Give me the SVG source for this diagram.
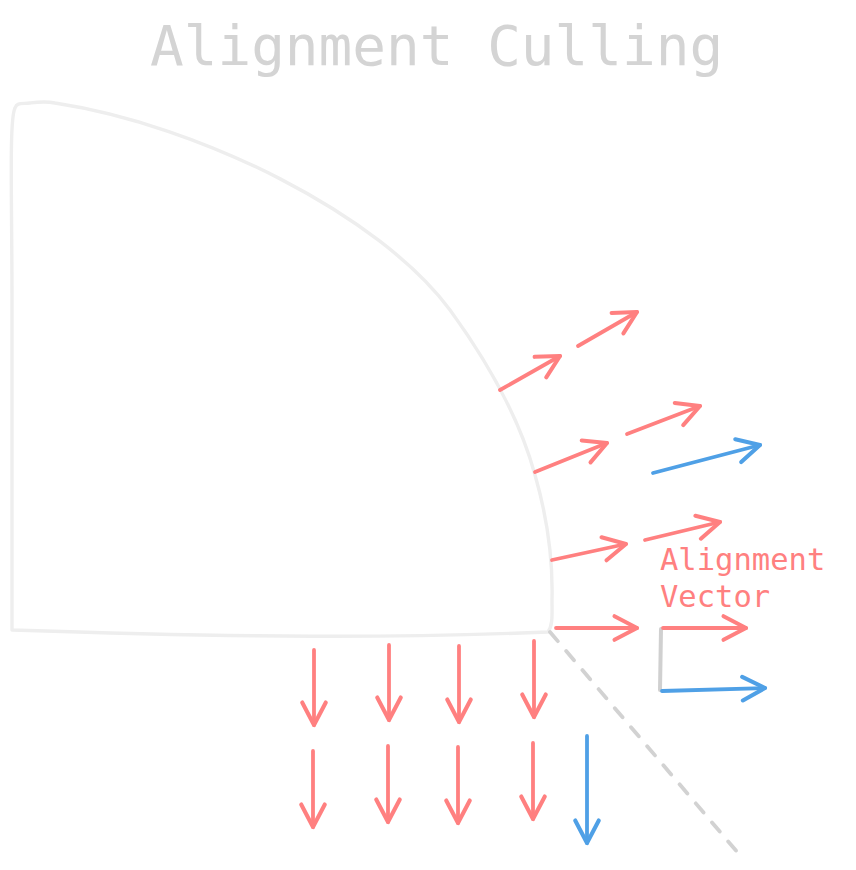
<svg xmlns="http://www.w3.org/2000/svg" width="856" height="870" viewBox="0 0 856 870">
<defs>
<style>
.r{stroke:#ff8080;stroke-width:3.8;fill:none;stroke-linecap:round;stroke-linejoin:round}
.b{stroke:#4fa0e6;stroke-width:3.8;fill:none;stroke-linecap:round;stroke-linejoin:round}
.g{stroke:#eeeeee;stroke-width:3.4;fill:none;stroke-linecap:round;stroke-linejoin:round}
.d{stroke:#d2d2d2;stroke-width:3.8;fill:none;stroke-dasharray:12 13;stroke-linecap:round}
.gl{stroke:#d0d0d0;stroke-width:4;fill:none;stroke-linecap:round}
.t{font-family:"DejaVu Sans Mono","Liberation Mono",monospace}
</style>
<marker id="ar" markerUnits="userSpaceOnUse" markerWidth="30" markerHeight="30" viewBox="-24 -14 28 28" refX="0" refY="0" orient="auto" overflow="visible">
<path d="M-21,-11 L0,0 L-21,11" stroke="#ff8080" stroke-width="3.8" fill="none" stroke-linecap="round" stroke-linejoin="round"/>
</marker>
<marker id="ab" markerUnits="userSpaceOnUse" markerWidth="30" markerHeight="30" viewBox="-24 -14 28 28" refX="0" refY="0" orient="auto" overflow="visible">
<path d="M-21,-11 L0,0 L-21,11" stroke="#4fa0e6" stroke-width="3.8" fill="none" stroke-linecap="round" stroke-linejoin="round"/>
</marker>
</defs>
<rect width="856" height="870" fill="#ffffff"/>
<text class="t" x="150" y="65" font-size="56" fill="#d4d4d4">Alignment Culling</text>
<g id="shape">
<path class="g" d="M12,630 L12,300 C12,200 9,120 15,108 C17,102 22,104 30,103 C38,102 45,101 55,103 C200,125 380,215 450,310 C490,365 520,420 535,475 C548,520 553,560 552,600 C552,615 553,625 548,632 C400,638 250,638 12,630 Z"/>
</g>
<g id="boundary">
<path class="d" d="M550,632 L738,853"/>
</g>
<g id="label">
<text class="t" x="660" y="570" font-size="30.5" fill="#ff8080">Alignment</text>
<text class="t" x="660" y="607" font-size="30.5" fill="#ff8080">Vector</text>
</g>
<g id="connectors">
<path class="r" marker-end="url(#ar)" d="M500,390 L560,356"/>
<path class="r" marker-end="url(#ar)" d="M578,346 L637,312"/>
<path class="r" marker-end="url(#ar)" d="M535,472 L607,443"/>
<path class="r" marker-end="url(#ar)" d="M627,434 L700,406"/>
<path class="b" marker-end="url(#ab)" d="M653,473 L760,445"/>
<path class="r" marker-end="url(#ar)" d="M552,560 L626,544"/>
<path class="r" marker-end="url(#ar)" d="M645,540 L720,522"/>
<path class="r" marker-end="url(#ar)" d="M556,628 L637,628"/>
<path class="gl" d="M661,629 L660,690"/>
<path class="r" marker-end="url(#ar)" d="M663,628 L746,628"/>
<path class="b" marker-end="url(#ab)" d="M662,691 L765,688"/>
<path class="r" marker-end="url(#ar)" d="M314,650 L314,725"/>
<path class="r" marker-end="url(#ar)" d="M389,645 L389,720"/>
<path class="r" marker-end="url(#ar)" d="M459,646 L459,722"/>
<path class="r" marker-end="url(#ar)" d="M534,641 L534,717"/>
<path class="r" marker-end="url(#ar)" d="M313,751 L313,827"/>
<path class="r" marker-end="url(#ar)" d="M388,746 L388,822"/>
<path class="r" marker-end="url(#ar)" d="M458,747 L458,823"/>
<path class="r" marker-end="url(#ar)" d="M533,743 L533,819"/>
<path class="b" marker-end="url(#ab)" d="M587,736 L587,843"/>
</g>
</svg>
